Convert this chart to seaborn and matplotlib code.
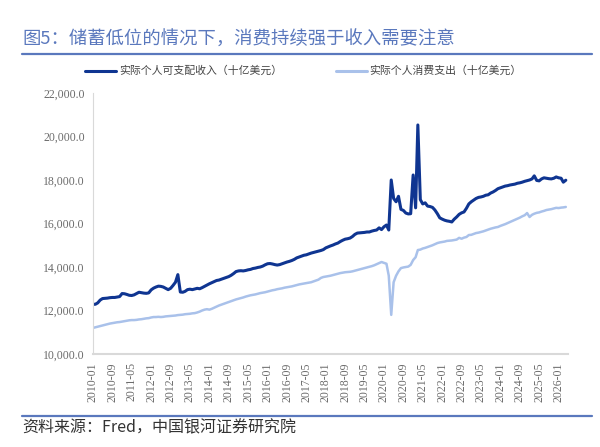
import pandas as pd
import numpy as np
import matplotlib.pyplot as plt
import matplotlib.ticker as mticker
import seaborn as sns

# monthly series, 2010-01 onwards
income = [
    12280, 12290, 12350, 12480, 12550, 12560, 12570, 12590, 12600, 12600, 12620, 12640,
    12780, 12770, 12740, 12700, 12690, 12720, 12780, 12840, 12820, 12800, 12790, 12810,
    12950, 13030, 13080, 13120, 13110, 13080, 13020, 12960, 13020, 13150, 13300, 13650,
    12850, 12840, 12880, 12960, 12980, 12960, 12990, 13020, 13000, 13050, 13110, 13170,
    13230, 13280, 13330, 13380, 13400, 13440, 13480, 13520, 13560, 13620, 13700, 13790,
    13820, 13830, 13820, 13840, 13870, 13890, 13930, 13950, 13980, 14000, 14040, 14100,
    14150, 14160, 14140, 14110, 14090, 14110, 14150, 14190, 14230, 14260, 14300, 14350,
    14420, 14460, 14500, 14540, 14560, 14600, 14640, 14670, 14700, 14730, 14760, 14800,
    14880, 14930, 14970, 15010, 15060, 15100, 15170, 15230, 15280, 15300, 15330, 15400,
    15500, 15560, 15570, 15580, 15590, 15610, 15610, 15650, 15680, 15700, 15800, 15720,
    15850, 15930, 15700, 18000, 17150, 17000, 17250, 16650, 16600, 16480, 16440, 16450,
    18230, 16720, 20530, 17100, 16900, 16950, 16800, 16780, 16740, 16620, 16450, 16260,
    16200, 16150, 16120, 16100, 16070, 16200, 16300, 16420, 16490, 16530, 16700, 16900,
    17000, 17080, 17150, 17200, 17220, 17250, 17300, 17320, 17400, 17450, 17520, 17600,
    17640, 17680, 17720, 17740, 17770, 17790, 17810, 17850, 17870, 17900, 17940, 17970,
    18000, 18050, 18190, 17980, 17960, 18050, 18100, 18080, 18060, 18050, 18080, 18140,
    18100, 18080, 17900, 17990,
]
spending = [
    11200, 11230, 11260, 11290, 11320, 11350, 11380, 11400, 11420, 11440, 11460, 11470,
    11490, 11510, 11530, 11550, 11560, 11560, 11570, 11590, 11600, 11620, 11640, 11650,
    11680, 11700, 11700, 11710, 11700, 11710, 11730, 11740, 11750, 11760, 11770, 11790,
    11800, 11810, 11830, 11840, 11850, 11870, 11880, 11910, 11950, 12000, 12040, 12060,
    12040, 12080, 12130, 12180, 12230, 12270, 12310, 12350, 12390, 12430, 12470, 12510,
    12540, 12570, 12600, 12640, 12670, 12700, 12720, 12740, 12770, 12800, 12820, 12840,
    12870, 12900, 12930, 12950, 12980, 13000, 13020, 13050, 13070, 13090, 13110, 13140,
    13170, 13200, 13220, 13240, 13260, 13280, 13300, 13340, 13380, 13420, 13500, 13540,
    13560, 13580, 13600, 13630, 13660, 13690, 13720, 13740, 13760, 13770, 13780, 13800,
    13830, 13860, 13890, 13920, 13950, 13980, 14000, 14040, 14080, 14130, 14180, 14230,
    14190, 14150, 13600, 11800, 13300, 13600, 13800, 13950, 13980, 14000, 14020, 14100,
    14320, 14450, 14780, 14800, 14850, 14880, 14920, 14960, 15000, 15050, 15100, 15130,
    15150, 15170, 15200, 15210, 15220, 15240, 15260, 15340, 15300, 15350, 15380, 15470,
    15480, 15520, 15560, 15580, 15610, 15640, 15680, 15720, 15760, 15790, 15820, 15840,
    15890, 15930, 15970, 16020, 16070, 16120, 16170, 16220, 16270, 16330, 16380, 16480,
    16300, 16400, 16450, 16490, 16510, 16550, 16580, 16620, 16640, 16660, 16690, 16720,
    16710, 16730, 16740, 16760,
]
dates = pd.date_range("2010-01-01", periods=len(income), freq="MS")
series_names = ["实际个人可支配收入（十亿美元）", "实际个人消费支出（十亿美元）"]
y_ticks = [10000, 12000, 14000, 16000, 18000, 20000, 22000]

df = pd.DataFrame({"date": dates, series_names[0]: income, series_names[1]: spending})
long = df.melt(id_vars="date", var_name="series", value_name="value")

sns.set_style("white")
plt.rcParams["font.family"] = ["Noto Sans CJK SC", "DejaVu Sans"]

colors = {series_names[0]: "#0f3591", series_names[1]: "#a9c1ea"}

fig = plt.figure(figsize=(6, 4.47), dpi=100)
ax = fig.add_axes([0.155, 0.208, 0.792, 0.584])

sns.lineplot(data=long, x="date", y="value", hue="series", palette=colors,
             ax=ax, legend=False)
for line, lw in zip(ax.get_lines(), [2.2, 1.8]):
    line.set_linewidth(lw)

ax.set_xlim(dates[0], dates[-1] + pd.DateOffset(months=1))
ax.set_ylim(10000, 22000)
ax.set_yticks(y_ticks)
ax.yaxis.set_major_formatter(mticker.FuncFormatter(lambda v, p: f"{v:,.1f}"))
tick_dates = dates[::8]
ax.set_xticks(tick_dates)
ax.set_xticklabels([d.strftime("%Y-%m") for d in tick_dates], rotation=90)
ax.set_xlabel("")
ax.set_ylabel("")
ax.tick_params(axis="both", length=0, labelsize=8.5, colors="#6b6b6b", pad=6)
for lab in ax.get_xticklabels() + ax.get_yticklabels():
    lab.set_fontfamily("Liberation Serif")

for side in ["top", "right"]:
    ax.spines[side].set_visible(False)
ax.spines["left"].set_color("#d9d9d9")
ax.spines["bottom"].set_color("#d9d9d9")
ax.spines["bottom"].set_linewidth(1.5)

# title, rules, legend and source
fig.text(0.037, 0.912, "图5：储蓄低位的情况下，消费持续强于收入需要注意",
         fontsize=13.2, color="#5a78bd", va="center")
fig.add_artist(plt.Line2D([0.037, 0.987], [0.879, 0.879], color="#5a78bd", lw=1.6))
fig.add_artist(plt.Line2D([0.037, 0.987], [0.07, 0.07], color="#5a78bd", lw=1.6))
fig.text(0.037, 0.043, "资料来源：Fred，中国银河证券研究院", fontsize=11.5,
         color="#333333", va="center", style="italic")

for x0, name in [(0.142, series_names[0]), (0.56, series_names[1])]:
    fig.add_artist(plt.Line2D([x0, x0 + 0.052], [0.842, 0.842],
                              color=colors[name], lw=2.2))
    fig.text(x0 + 0.056, 0.842, name, fontsize=7.8, color="#444444", va="center")

fig.savefig("out.png", dpi=100)
